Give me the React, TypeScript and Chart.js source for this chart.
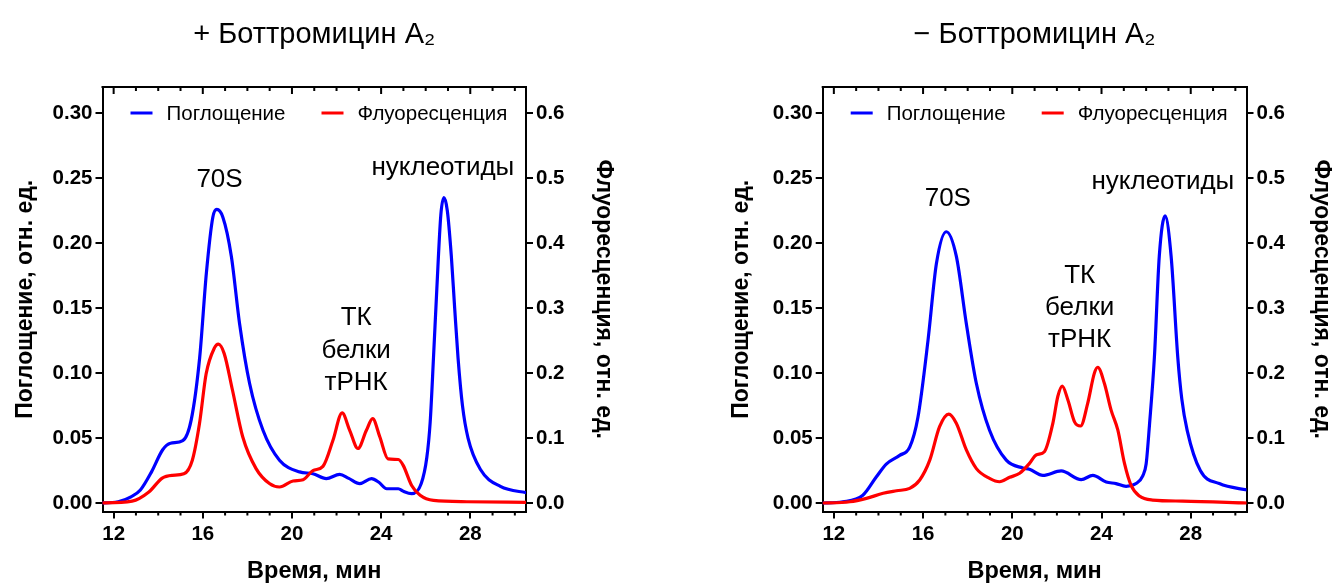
import React, { useEffect, useRef } from 'react';
import { Chart, registerables } from 'chart.js';

Chart.register(...registerables);

const FONT = '"Liberation Sans", Arial, Helvetica, sans-serif';
const BLUE = '#0000FF';
const RED = '#FF0000';

// ---- axes ----
const xMin = 11.5;
const xMax = 30.5;
const xMajorTicks = [12, 16, 20, 24, 28];
const xMinorTicks = [13, 14, 15, 17, 18, 19, 21, 22, 23, 25, 26, 27, 29, 30];
const absTicks = [0, 0.05, 0.1, 0.15, 0.2, 0.25, 0.3];
const fluTicks = [0, 0.1, 0.2, 0.3, 0.4, 0.5, 0.6];
const absMin = -0.0065;
const absMax = 0.3202;
const fluMin = -0.013;
const fluMax = 0.6404;

const seriesNames = ['Поглощение', 'Флуоресценция'];
const xTitle = 'Время, мин';
const absTitle = 'Поглощение, отн. ед.';
const fluTitle = 'Флуоресценция, отн. ед.';

// ---- panel 1: + bottromycin ----
const withTitle = '+ Боттромицин A₂';
const withAbsTime = [11.3, 12.2, 12.8, 13.2, 13.7, 14.2, 14.55, 15.1, 15.48, 15.86, 16.16, 16.45, 16.63, 16.9, 17.28, 17.65, 18.1, 18.7, 19.44, 20.34, 20.94, 21.54, 22.14, 22.55, 23.04, 23.57, 23.9, 24.25, 24.77, 25.0, 25.37, 25.8, 26.05, 26.2, 26.35, 26.5, 26.68, 26.82, 26.97, 27.15, 27.3, 27.45, 27.65, 27.9, 28.45, 29.35, 30.6];
const withAbsValue = [0.0, 0.001, 0.005, 0.01, 0.024, 0.041, 0.046, 0.048, 0.064, 0.112, 0.177, 0.22, 0.226, 0.22, 0.19, 0.138, 0.092, 0.056, 0.033, 0.024, 0.0226, 0.0188, 0.022, 0.019, 0.015, 0.0188, 0.016, 0.011, 0.011, 0.009, 0.0072, 0.015, 0.035, 0.062, 0.112, 0.165, 0.222, 0.235, 0.225, 0.19, 0.15, 0.112, 0.075, 0.05, 0.026, 0.0128, 0.0077];
const withFluTime = [11.3, 12.83, 13.58, 14.18, 14.63, 15.15, 15.53, 15.85, 16.15, 16.51, 16.7, 16.96, 17.33, 17.79, 18.39, 18.99, 19.44, 20.05, 20.5, 20.94, 21.39, 21.84, 22.25, 22.59, 22.96, 23.34, 23.62, 23.94, 24.31, 24.77, 24.99, 25.37, 25.75, 26.35, 27.85, 30.6];
const withFluValue = [0.0, 0.003, 0.017, 0.0385, 0.0427, 0.045, 0.066, 0.122, 0.199, 0.238, 0.2445, 0.23, 0.174, 0.102, 0.053, 0.03, 0.0247, 0.034, 0.036, 0.05, 0.0565, 0.0966, 0.1387, 0.112, 0.084, 0.112, 0.13, 0.102, 0.068, 0.067, 0.058, 0.027, 0.012, 0.004, 0.002, 0.001];
const withNoteText = ['70S', 'нуклеотиды', 'ТК', 'белки', 'тРНК'];
const withNoteX = [16.75, 26.77, 22.88, 22.88, 22.88];
const withNoteY = [0.2435, 0.2525, 0.137, 0.1114, 0.087];

// ---- panel 2: − bottromycin ----
const withoutTitle = '− Боттромицин A₂';
const withoutAbsTime = [11.4, 12.4, 13.3, 13.9, 14.35, 14.95, 15.4, 15.77, 16.22, 16.6, 17.04, 17.49, 17.94, 18.39, 18.98, 19.73, 20.47, 20.77, 21.37, 22.19, 23.09, 23.61, 24.21, 24.65, 25.1, 25.55, 25.85, 26.0, 26.15, 26.37, 26.59, 26.85, 27.12, 27.42, 27.6, 27.84, 28.43, 29.28, 30.6];
const withoutAbsValue = [0.0, 0.001, 0.006, 0.02, 0.03, 0.0367, 0.043, 0.066, 0.125, 0.1845, 0.2088, 0.19, 0.138, 0.092, 0.056, 0.033, 0.027, 0.026, 0.0213, 0.0247, 0.018, 0.0213, 0.0162, 0.015, 0.0129, 0.015, 0.021, 0.03, 0.06, 0.112, 0.19, 0.221, 0.19, 0.112, 0.08, 0.056, 0.025, 0.015, 0.0098];
const withoutFluTime = [11.4, 12.72, 13.46, 14.21, 14.81, 15.4, 15.85, 16.3, 16.74, 17.15, 17.49, 17.94, 18.39, 18.98, 19.43, 19.88, 20.33, 20.77, 21.07, 21.44, 21.82, 22.04, 22.24, 22.49, 22.79, 23.06, 23.38, 23.68, 23.83, 24.13, 24.43, 24.73, 25.03, 25.32, 25.7, 26.29, 27.64, 30.6];
const withoutFluValue = [0.0, 0.002, 0.0072, 0.015, 0.019, 0.0226, 0.0355, 0.066, 0.1176, 0.137, 0.123, 0.0817, 0.053, 0.038, 0.0328, 0.0396, 0.0458, 0.061, 0.074, 0.079, 0.123, 0.164, 0.18, 0.159, 0.125, 0.1186, 0.1535, 0.2, 0.209, 0.184, 0.143, 0.1125, 0.061, 0.0277, 0.0108, 0.0046, 0.003, 0.0];
const withoutNoteText = ['70S', 'нуклеотиды', 'ТК', 'белки', 'тРНК'];
const withoutNoteX = [17.11, 26.75, 23.02, 23.02, 23.02];
const withoutNoteY = [0.2286, 0.2415, 0.1696, 0.1447, 0.1203];

type PanelCfg = {
  title: string;
  absTime: number[];
  absValue: number[];
  fluTime: number[];
  fluValue: number[];
  noteText: string[];
  noteX: number[];
  noteY: number[];
  canvasLeft: number;
  canvasWidth: number;
  leftW: number;
  rightW: number;
  leftTitlePad: number;
  rightTitlePad: number;
};

const panels: PanelCfg[] = [
  {
    title: withTitle, absTime: withAbsTime, absValue: withAbsValue, fluTime: withFluTime, fluValue: withFluValue,
    noteText: withNoteText, noteX: withNoteX, noteY: withNoteY,
    canvasLeft: 0, canvasWidth: 666, leftW: 102.5, rightW: 140, leftTitlePad: 11.5, rightTitlePad: 49,
  },
  {
    title: withoutTitle, absTime: withoutAbsTime, absValue: withoutAbsValue, fluTime: withoutFluTime, fluValue: withoutFluValue,
    noteText: withoutNoteText, noteX: withoutNoteX, noteY: withoutNoteY,
    canvasLeft: 666, canvasWidth: 667, leftW: 156.7, rightW: 86.5, leftTitlePad: 62, rightTitlePad: -2,
  },
];

const HEIGHT = 583;
const legendOffsets = [28, 219];

function zip(t: number[], v: number[]) {
  return t.map((x, i) => ({ x, y: v[i] }));
}

function Panel({ p }: { p: PanelCfg }) {
  const ref = useRef<HTMLCanvasElement>(null);
  useEffect(() => {
    const canvas = ref.current;
    if (!canvas) return;
    const decor = {
      id: 'decor',
      afterDraw(chart: any) {
        const { ctx, chartArea: a, scales } = chart;
        const xs = scales.x;
        const ys = scales.yA;
        ctx.save();
        ctx.strokeStyle = '#000';
        ctx.lineWidth = 2;
        ctx.beginPath();
        ctx.moveTo(a.left - 1, a.top);
        ctx.lineTo(a.right + 1, a.top);
        ctx.stroke();
        ctx.beginPath();
        for (const v of xMajorTicks) {
          const px = xs.getPixelForValue(v);
          ctx.moveTo(px, a.top);
          ctx.lineTo(px, a.top + 7);
        }
        for (const v of xMinorTicks) {
          const px = xs.getPixelForValue(v);
          ctx.moveTo(px, a.top);
          ctx.lineTo(px, a.top + 4);
          ctx.moveTo(px, a.bottom);
          ctx.lineTo(px, a.bottom + 4);
        }
        ctx.stroke();
        // legend
        ctx.font = `20.5px ${FONT}`;
        ctx.textBaseline = 'middle';
        ctx.textAlign = 'left';
        const ly = a.top + 26;
        chart.data.datasets.forEach((ds: any, i: number) => {
          const lx = a.left + legendOffsets[i];
          ctx.strokeStyle = ds.borderColor;
          ctx.lineWidth = 3;
          ctx.beginPath();
          ctx.moveTo(lx, ly);
          ctx.lineTo(lx + 22, ly);
          ctx.stroke();
          ctx.fillStyle = '#000';
          ctx.fillText(ds.label, lx + 36, ly + 1);
        });
        // annotations
        ctx.font = `26px ${FONT}`;
        ctx.textAlign = 'center';
        ctx.textBaseline = 'alphabetic';
        ctx.fillStyle = '#000';
        p.noteText.forEach((t, i) => {
          ctx.fillText(t, xs.getPixelForValue(p.noteX[i]), ys.getPixelForValue(p.noteY[i]));
        });
        ctx.restore();
      },
    };
    const tickFont = { family: FONT, size: 20.5, weight: 'bold' as const };
    const axisTitleFont = { family: FONT, size: 23, weight: 'bold' as const };
    const gridOpts = {
      display: true, drawOnChartArea: false, drawTicks: true, tickLength: 7,
      tickWidth: 2, tickColor: '#000', color: '#000', lineWidth: 2,
    };
    const border = { display: true, color: '#000', width: 2 };
    const chart = new Chart(canvas, {
      type: 'line',
      data: {
        datasets: [
          {
            label: seriesNames[0], data: zip(p.absTime, p.absValue), borderColor: BLUE, backgroundColor: BLUE,
            borderWidth: 3.2, pointRadius: 0, cubicInterpolationMode: 'monotone', yAxisID: 'yA', order: 1, fill: false,
          },
          {
            label: seriesNames[1], data: zip(p.fluTime, p.fluValue), borderColor: RED, backgroundColor: RED,
            borderWidth: 3.2, pointRadius: 0, cubicInterpolationMode: 'monotone', yAxisID: 'yF', order: 0, fill: false,
          },
        ],
      },
      options: {
        responsive: false,
        animation: false,
        devicePixelRatio: 1,
        layout: { padding: 0 },
        plugins: {
          legend: { display: false },
          tooltip: { enabled: false },
          title: {
            display: true, text: p.title, fullSize: false, color: '#000',
            font: { family: FONT, size: 29, weight: 'normal' }, padding: { top: 17.3, bottom: 34.9 },
          },
        },
        scales: {
          x: {
            type: 'linear', position: 'bottom', min: xMin, max: xMax,
            afterBuildTicks: (s: any) => { s.ticks = xMajorTicks.map((v) => ({ value: v })); },
            afterFit: (s: any) => { s.height = HEIGHT - 511.5; },
            grid: gridOpts, border,
            ticks: { color: '#000', font: tickFont, padding: 4, autoSkip: false, maxRotation: 0, callback: (v: any) => String(v) },
            title: { display: true, text: xTitle, color: '#000', font: { family: FONT, size: 23.5, weight: 'bold' }, padding: { top: 0, bottom: -3 } },
          },
          yA: {
            type: 'linear', position: 'left', min: absMin, max: absMax,
            afterBuildTicks: (s: any) => { s.ticks = absTicks.map((v) => ({ value: v })); },
            afterFit: (s: any) => { s.width = p.leftW; },
            grid: gridOpts, border,
            ticks: { color: '#000', font: tickFont, padding: 3, callback: (v: any) => Number(v).toFixed(2) },
            title: { display: true, text: absTitle, color: '#000', font: axisTitleFont, padding: { top: p.leftTitlePad, bottom: 0 } },
          },
          yF: {
            type: 'linear', position: 'right', min: fluMin, max: fluMax,
            afterBuildTicks: (s: any) => { s.ticks = fluTicks.map((v) => ({ value: v })); },
            afterFit: (s: any) => { s.width = p.rightW; },
            grid: gridOpts, border,
            ticks: { color: '#000', font: tickFont, padding: 3, callback: (v: any) => Number(v).toFixed(1) },
            title: { display: true, text: fluTitle, color: '#000', font: axisTitleFont, padding: { top: p.rightTitlePad, bottom: 0 } },
          },
        },
      } as any,
      plugins: [decor],
    });
    return () => chart.destroy();
  }, [p]);
  return (
    <canvas
      ref={ref}
      width={p.canvasWidth}
      height={HEIGHT}
      style={{ position: 'absolute', left: p.canvasLeft, top: 0, width: p.canvasWidth, height: HEIGHT }}
    />
  );
}

export default function App() {
  return (
    <div style={{ position: 'absolute', left: 0, top: 0, width: 1333, height: HEIGHT, background: '#fff', overflow: 'hidden' }}>
      {panels.map((p, i) => (
        <Panel key={i} p={p} />
      ))}
    </div>
  );
}
